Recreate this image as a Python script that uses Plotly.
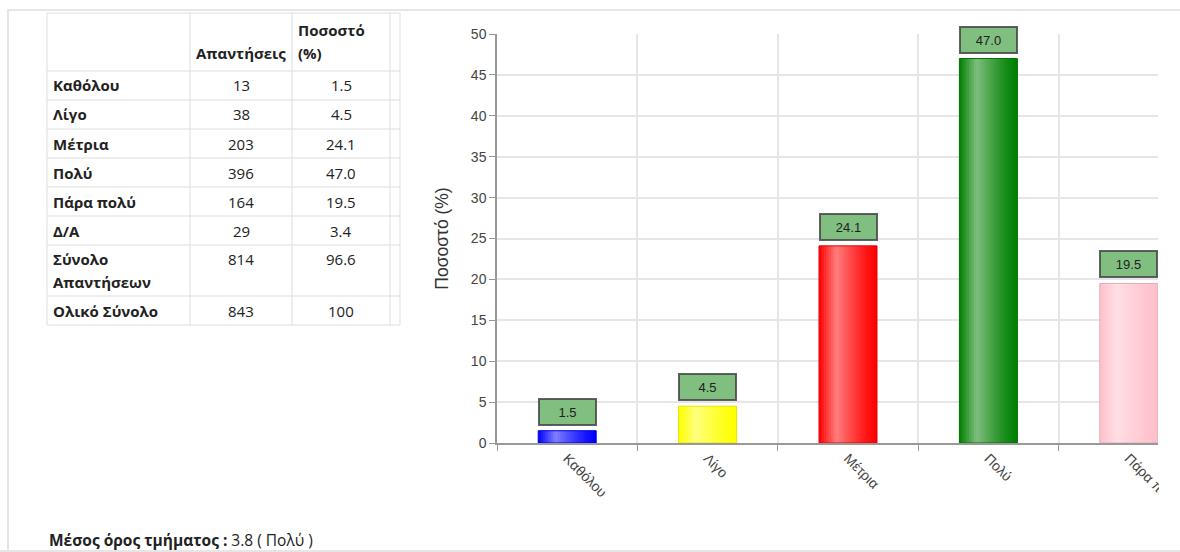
import plotly.graph_objects as go

# ---------------- data ----------------
header_labels = ["", "Απαντήσεις", "Ποσοστό<br>(%)", ""]
row_labels = ["Καθόλου", "Λίγο", "Μέτρια", "Πολύ", "Πάρα πολύ", "Δ/Α",
              "Σύνολο<br>Απαντήσεων", "Ολικό Σύνολο"]
responses = [13, 38, 203, 396, 164, 29, 814, 843]
percent_txt = ["1.5", "4.5", "24.1", "47.0", "19.5", "3.4", "96.6", "100"]

chart_categories = ["Καθόλου", "Λίγο", "Μέτρια", "Πολύ", "Πάρα πολύ"]
chart_values = [1.5, 4.5, 24.1, 47.0, 19.5]
bar_colors = [(0, 0, 255), (255, 255, 0), (255, 0, 0), (0, 128, 0), (255, 192, 203)]
y_ticks = [0, 5, 10, 15, 20, 25, 30, 35, 40, 45, 50]

W, H = 1180, 552


def px_x(p):
    return p / W


def px_y(p):
    return 1 - p / H


fig = go.Figure()
shapes = []
annotations = []

# ---------------- table (drawn with shapes + text) ----------------
col_edges = [47, 190, 292, 390, 400]
col_align = ["left", "center", "center", "center"]
header_top, header_h = 13, 58
row_h1, line_gap = 29, 22
grid_c = "#dddddd"
tfont = "Open Sans"
tsize = 15
tcolor = "#222222"

rows = [[l, str(r), p, ""] for l, r, p in zip(row_labels, responses, percent_txt)]

row_tops = []
y = header_top + header_h
for r in rows:
    n_lines = max(len(c.split("<br>")) for c in r)
    row_tops.append((y, n_lines))
    y += row_h1 + (n_lines - 1) * line_gap
table_bottom = y

hlines = [header_top, header_top + header_h] + [t + row_h1 + (n - 1) * line_gap for t, n in row_tops]
for yy in hlines:
    shapes.append(dict(type="line", xref="paper", yref="paper",
                       x0=px_x(col_edges[0]), x1=px_x(col_edges[-1]), y0=px_y(yy), y1=px_y(yy),
                       line=dict(color=grid_c, width=1), layer="above"))
for xx in col_edges:
    shapes.append(dict(type="line", xref="paper", yref="paper",
                       x0=px_x(xx), x1=px_x(xx), y0=px_y(header_top), y1=px_y(table_bottom),
                       line=dict(color=grid_c, width=1), layer="above"))


def cell_x(ci):
    if col_align[ci] == "left":
        return px_x(col_edges[ci] + 4), "left"
    return px_x((col_edges[ci] + col_edges[ci + 1]) / 2), "center"


hb = header_top + header_h
for ci, txt in enumerate(header_labels):
    if not txt:
        continue
    lines = txt.split("<br>")
    for li, line in enumerate(lines):
        yc = hb - 18.5 - (len(lines) - 1 - li) * line_gap
        annotations.append(dict(x=px_x(col_edges[ci] + 4), y=px_y(yc), xref="paper", yref="paper",
                                xanchor="left", yanchor="middle", showarrow=False,
                                text="<b>%s</b>" % line,
                                font=dict(family=tfont, size=tsize, color=tcolor)))

for (top, n), r in zip(row_tops, rows):
    for ci, txt in enumerate(r):
        if not txt:
            continue
        xp, anc = cell_x(ci)
        for li, line in enumerate(txt.split("<br>")):
            yc = top + 14.5 + li * line_gap
            annotations.append(dict(x=xp, y=px_y(yc), xref="paper", yref="paper",
                                    xanchor=anc, yanchor="middle", showarrow=False,
                                    text=("<b>%s</b>" % line) if ci == 0 else line,
                                    font=dict(family=tfont, size=tsize, color=tcolor)))

# ---------------- gradient bars ----------------
bar_w = 0.413
n_strips = 24
dw = bar_w / n_strips


def light(t):
    if t < 0.3:
        return 0.5 * t / 0.3
    return 0.5 * (1 - (t - 0.3) / 0.7) ** 1.3


def mix(c, f):
    return "rgb(%d,%d,%d)" % tuple(int(round(ch + (255 - ch) * f)) for ch in c)


for i in range(n_strips):
    t = (i + 0.5) / n_strips
    f = light(t)
    width = dw * 1.4 if i < n_strips - 1 else dw
    fig.add_trace(go.Bar(
        x=chart_categories, y=chart_values,
        width=[width] * len(chart_categories),
        offset=[-bar_w / 2 + i * dw] * len(chart_categories),
        marker=dict(color=[mix(c, f) for c in bar_colors], line=dict(width=0)),
        showlegend=False, hoverinfo="skip",
    ))

fig.add_trace(go.Bar(
    x=chart_categories, y=chart_values,
    width=[bar_w] * len(chart_categories),
    offset=[-bar_w / 2] * len(chart_categories),
    marker=dict(color="rgba(0,0,0,0)",
                line=dict(width=1, color=["rgb(%d,%d,%d)" % tuple(int(ch * 0.9) for ch in c)
                                          for c in bar_colors])),
    showlegend=False, hoverinfo="skip",
))

for cat, v in zip(chart_categories, chart_values):
    annotations.append(dict(
        x=cat, y=v, xref="x", yref="y", text="%.1f" % v,
        showarrow=False, yanchor="bottom", yshift=5,
        width=55, height=24, borderpad=0, borderwidth=2,
        bgcolor="rgb(128,191,128)", bordercolor="rgba(70,70,70,0.85)",
        font=dict(family="Liberation Sans, Arial", size=13, color="#222222"),
    ))

annotations.append(dict(
    x=px_x(47), y=px_y(540), xref="paper", yref="paper",
    xanchor="left", yanchor="middle", showarrow=False,
    text="<b>Μέσος όρος τμήματος :</b> 3.8 ( Πολύ )",
    font=dict(family=tfont, size=15.5, color=tcolor),
))

shapes.extend([
    dict(type="rect", xref="paper", yref="paper", x0=px_x(1159), x1=1.0, y0=0, y1=px_y(440),
         fillcolor="white", line=dict(width=0), layer="above"),
    dict(type="line", xref="paper", yref="paper", x0=px_x(7), x1=1.0, y0=px_y(10), y1=px_y(10),
         line=dict(color="#e6e6e6", width=2), layer="above"),
    dict(type="line", xref="paper", yref="paper", x0=px_x(8), x1=px_x(8), y0=px_y(10), y1=0,
         line=dict(color="#e6e6e6", width=2), layer="above"),
    dict(type="line", xref="paper", yref="paper", x0=0, x1=1.0, y0=px_y(551), y1=px_y(551),
         line=dict(color="#e6e6e6", width=2), layer="above"),
])

x_right = 1158
band = 140.4
fig.update_layout(
    width=W, height=H,
    margin=dict(l=0, r=0, t=0, b=0),
    paper_bgcolor="white", plot_bgcolor="white",
    barmode="overlay", showlegend=False,
    shapes=shapes, annotations=annotations,
    xaxis=dict(
        domain=[px_x(497), px_x(x_right)],
        range=[-0.5, -0.5 + (x_right - 497) / band],
        type="category", tickson="boundaries",
        ticks="outside", ticklen=6, tickcolor="#999999",
        showgrid=True, gridcolor="#e6e6e6", gridwidth=1.5,
        showline=True, linecolor="#999999", linewidth=1.5,
        tickangle=45, automargin=False,
        tickfont=dict(family="Liberation Sans, Arial", size=14, color="#444444"),
    ),
    yaxis=dict(
        domain=[1 - 443 / H, 1 - 34 / H],
        range=[0, 50], tickvals=y_ticks,
        ticks="outside", ticklen=6, tickcolor="#999999",
        showgrid=True, gridcolor="#e6e6e6", gridwidth=1.5,
        showline=True, linecolor="#999999", linewidth=1.5,
        zeroline=False, automargin=False,
        tickfont=dict(family="Liberation Sans, Arial", size=14, color="#444444"),
        title=dict(text="Ποσοστό (%)", standoff=18,
                   font=dict(family="Liberation Sans, Arial", size=17.5, color="#333333")),
    ),
)

fig.write_html("out.html", config={"displayModeBar": False},
               post_script="document.body.style.margin='0';document.body.style.overflow='hidden';")
